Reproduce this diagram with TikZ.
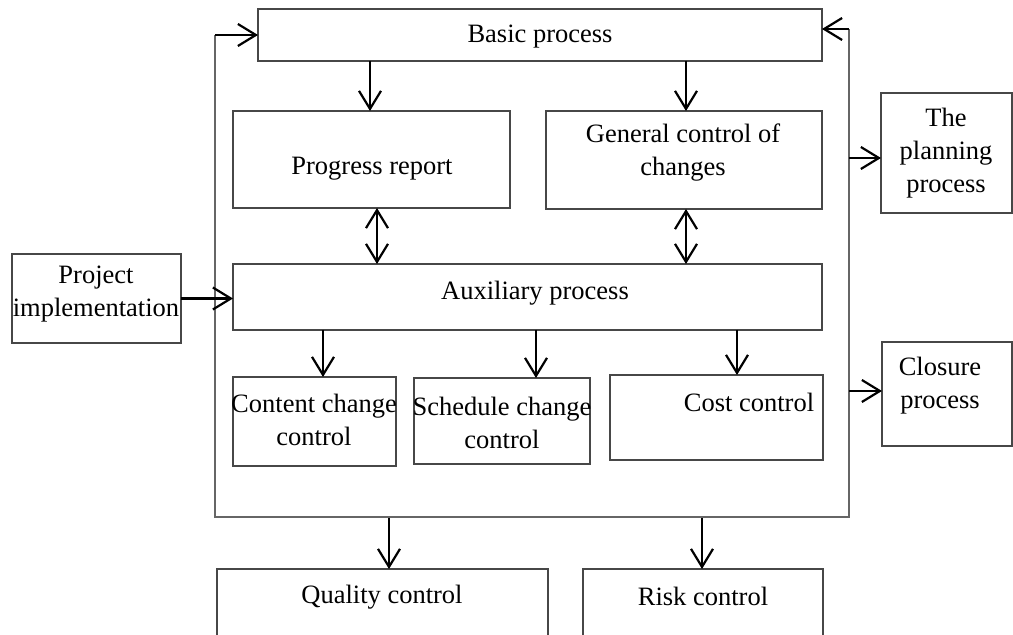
\documentclass[tikz,border=0pt]{standalone}
\usepackage{fontspec}
\setmainfont{Liberation Serif}
\usetikzlibrary{arrows.meta,fit}
\begin{document}
\begin{tikzpicture}[x=0.5pt,y=-0.5pt,
  >={Straight Barb[length=9pt,width=11pt]},
  box/.style={draw=black!72, line width=0.7pt, inner sep=0pt, outer sep=0pt, fit={#1}},
  lbl/.style={align=center, inner sep=0pt, font=\fontsize{13.25}{16.5}\selectfont},
  arr/.style={->, line width=1.1pt, black},
  darr/.style={<->, line width=1.1pt, black},
  fb/.style={draw=black!60, line width=0.6pt}]
\clip (0,0) rectangle (1013,635);
% boxes
\node[box={(258,9) (822,61)}] (basic) {};
\node[box={(233,111) (510,208)}] (progress) {};
\node[box={(546,111) (822,209)}] (general) {};
\node[box={(881,93) (1012,213)}] (planning) {};
\node[box={(12,254) (181,343)}] (project) {};
\node[box={(233,264) (822,330)}] (aux) {};
\node[box={(233,377) (396,466)}] (content) {};
\node[box={(414,378) (590,464)}] (schedule) {};
\node[box={(610,375) (823,460)}] (cost) {};
\node[box={(882,342) (1012,446)}] (closure) {};
\node[box={(217,569) (548,660)}] (quality) {};
\node[box={(583,569) (823,660)}] (risk) {};
% labels
\node[lbl] (tbasic) at (540,37) {Basic process};
\node[lbl] (tprogress) at (372,169) {Progress report};
\node[lbl] (tgeneral) at (683,153) {General control of\\changes};
\node[lbl] (tplanning) at (946,153) {The\\planning\\process};
\node[lbl] (tproject) at (96,294) {Project\\implementation};
\node[lbl] (taux) at (535,293) {Auxiliary process};
\node[lbl] (tcontent) at (314,420) {Content change\\control};
\node[lbl] (tschedule) at (502,423) {Schedule change\\control};
\node[lbl] (tcost) at (749,402) {Cost control};
\node[lbl] (tclosure) at (940,386) {Closure\\process};
\node[lbl] (tquality) at (382,597) {Quality control};
\node[lbl] (trisk) at (703,596) {Risk control};
% feedback frame
\coordinate (lt) at (215,35);
\coordinate (lb) at (215,517);
\coordinate (rb) at (849,517);
\coordinate (rt) at (849,29);
\draw[fb] (lt) -- (lb) -- (rb) -- (rt);
\draw[arr] (lt) -- (basic.west |- lt);
\draw[arr] (rt) -- (basic.east |- rt);
\coordinate (rp) at (849,158);
\coordinate (rc) at (849,391);
\draw[arr] (rp) -- (planning.west |- rp);
\draw[arr] (rc) -- (closure.west |- rc);
\coordinate (bq) at (389,518);
\coordinate (br) at (702,518);
\draw[arr] (bq) -- (quality.north -| bq);
\draw[arr] (br) -- (risk.north -| br);
% internal arrows
\draw[arr] (basic.south -| 370,0) -- (progress.north -| 370,0);
\draw[arr] (basic.south -| 686,0) -- (general.north -| 686,0);
\draw[darr] (progress.south -| 377,0) -- (aux.north -| 377,0);
\draw[darr] (general.south -| 686,0) -- (aux.north -| 686,0);
\draw[arr] (aux.south -| 323,0) -- (content.north -| 323,0);
\draw[arr] (aux.south -| 536,0) -- (schedule.north -| 536,0);
\draw[arr] (aux.south -| 737,0) -- (cost.north -| 737,0);
\draw[arr] (project.east) -- (aux.west |- project.east);
\end{tikzpicture}
\end{document}
